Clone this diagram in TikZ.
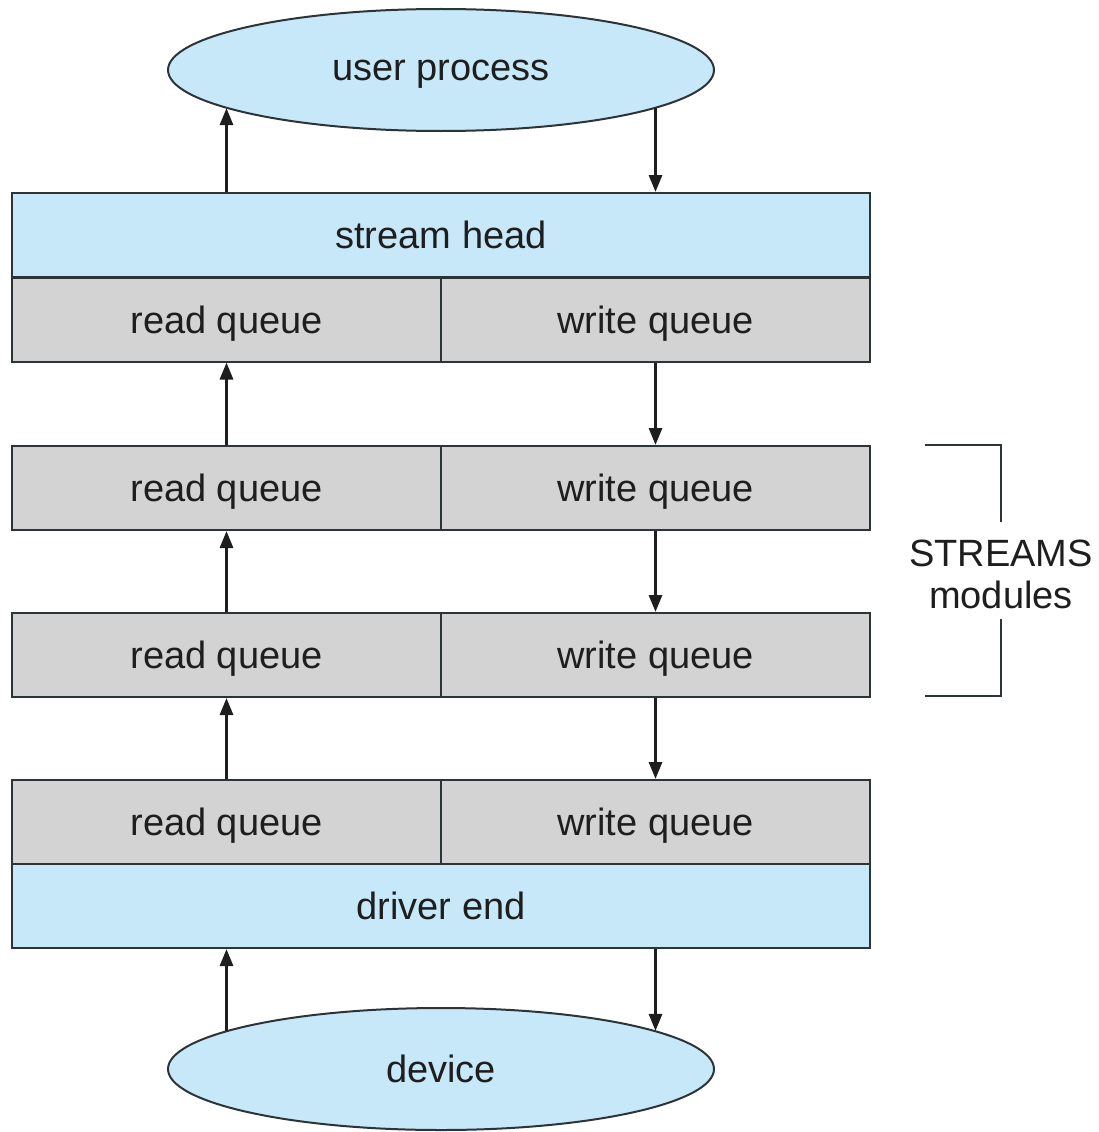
\documentclass[tikz,border=0pt]{standalone}
\usepackage{fontspec}
\setmainfont{Liberation Sans}
\usetikzlibrary{shapes.geometric,arrows.meta}
\definecolor{lblue}{RGB}{198,232,248}
\definecolor{lgray}{RGB}{211,211,211}
\definecolor{edge}{RGB}{45,52,56}
\definecolor{txt}{RGB}{30,30,30}
\begin{document}
\begin{tikzpicture}[x=1pt,y=-1pt,
  every node/.style={font=\fontsize{38}{42}\selectfont, text=txt},
  cellbox/.style={draw=edge, line width=2pt, fill=lgray, rectangle, minimum width=429pt, minimum height=84pt, inner sep=0pt, text depth=0pt},
  widebox/.style={draw=edge, line width=2pt, fill=lblue, rectangle, minimum width=858pt, minimum height=84pt, inner sep=0pt, text depth=0pt},
  endbox/.style={draw=edge, line width=2pt, fill=lblue, ellipse, minimum width=546pt, minimum height=122pt, inner sep=0pt, text depth=0pt},
  arr/.style={draw=txt, line width=3pt, -{Triangle[length=17pt,width=13pt]}},
  brk/.style={draw=edge, line width=2pt}]
\useasboundingbox (0,0) rectangle (1099,1132);
\node[endbox] (up) at (441,70) {user process};
\node[widebox] (sh) at (441,235) {stream head};
\node[cellbox] (rq1) at (226.5,319.5) {read queue};
\node[cellbox] (wq1) at (655.5,319.5) {write queue};
\node[cellbox] (rq2) at (226.5,488) {read queue};
\node[cellbox] (wq2) at (655.5,488) {write queue};
\node[cellbox] (rq3) at (226.5,655) {read queue};
\node[cellbox] (wq3) at (655.5,655) {write queue};
\node[cellbox] (rq4) at (226.5,822) {read queue};
\node[cellbox] (wq4) at (655.5,822) {write queue};
\node[widebox] (de) at (441,906) {driver end};
\node[endbox] (dev) at (441,1069) {device};
% arrows
\draw[arr] (sh.north -| rq1.north) -- (rq1.north |- up.190);
\draw[arr] (wq1.north |- up.350) -- (sh.north -| wq1.north);
\draw[arr] (rq2.north) -- (rq1.south);
\draw[arr] (wq1.south) -- (wq2.north);
\draw[arr] (rq3.north) -- (rq2.south);
\draw[arr] (wq2.south) -- (wq3.north);
\draw[arr] (rq4.north) -- (rq3.south);
\draw[arr] (wq3.south) -- (wq4.north);
\draw[arr] (rq4.south |- dev.170) -- (de.south -| rq4.south);
\draw[arr] (de.south -| wq4.south) -- (wq4.south |- dev.10);
% bracket
\node[align=center, inner sep=0pt] (sm) at (1001,574) {STREAMS\\modules};
\coordinate (b1) at (925,445);
\coordinate (b2) at (1001,445);
\coordinate (b3) at (1001,522);
\coordinate (b4) at (1001,619);
\coordinate (b5) at (1001,696);
\coordinate (b6) at (925,696);
\draw[brk] (b1) -- (b2) -- (b3);
\draw[brk] (b4) -- (b5) -- (b6);
\end{tikzpicture}
\end{document}
